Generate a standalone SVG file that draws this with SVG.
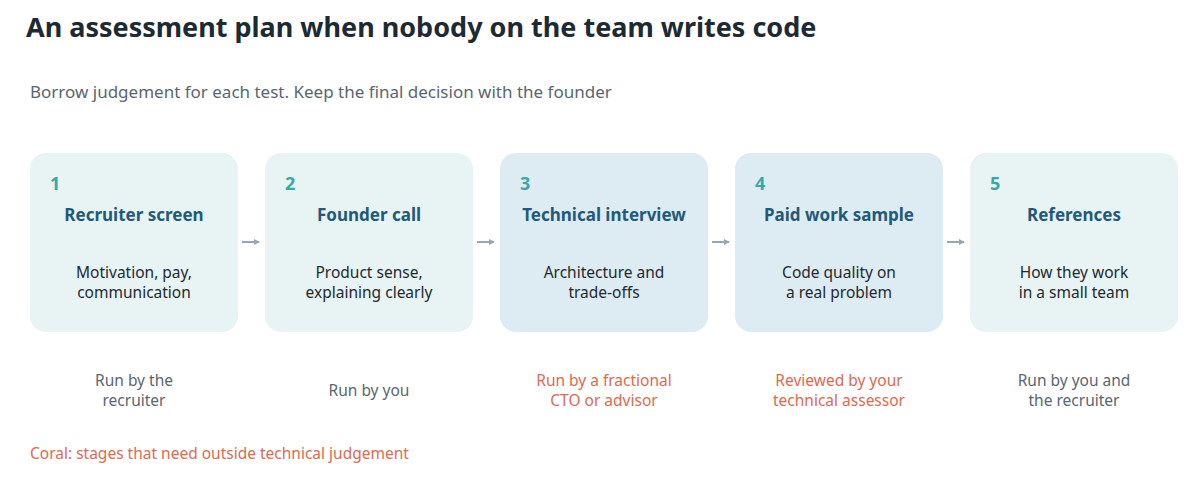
<svg xmlns="http://www.w3.org/2000/svg" width="1200" height="490" viewBox="0 0 1200 490">
<style>
text{font-family:"Noto Sans","Open Sans",sans-serif}
.t{font-size:27px;font-weight:bold;fill:#1E2A32}
.s{font-size:17px;fill:#5A6670}
.n{font-size:18px;font-weight:bold;fill:#3AA8A8}
.h{font-size:17px;font-weight:bold;fill:#1F5A7A;text-anchor:middle}
.b{font-size:15.5px;fill:#1F2A30;text-anchor:middle}
.l{font-size:15.5px;fill:#5A6670;text-anchor:middle}
.c{fill:#E0694F}
.a{fill:#E8F3F3}.d{fill:#DDEBF2}
.ar{stroke:#9AA6AE;stroke-width:2;fill:none}
</style>
<defs><marker id="m" markerWidth="6" markerHeight="6" refX="5" refY="3" orient="auto" markerUnits="userSpaceOnUse"><path d="M0,0L6,3L0,6z" fill="#9AA6AE"/></marker></defs>
<rect width="1200" height="490" fill="#fff"/>
<text class="t" x="26" y="37">An assessment plan when nobody on the team writes code</text>
<text class="s" x="30" y="98">Borrow judgement for each test. Keep the final decision with the founder</text>
<g id="n1"><rect class="a" x="30" y="153" width="208" height="179" rx="16"/><text class="n" x="50" y="190">1</text><text class="h" x="134" y="221">Recruiter screen</text><text class="b" x="134" y="278">Motivation, pay,</text><text class="b" x="134" y="298">communication</text><text class="l" x="134" y="386">Run by the</text><text class="l" x="134" y="406">recruiter</text></g>
<g id="n2"><rect class="a" x="265" y="153" width="208" height="179" rx="16"/><text class="n" x="285" y="190">2</text><text class="h" x="369" y="221">Founder call</text><text class="b" x="369" y="278">Product sense,</text><text class="b" x="369" y="298">explaining clearly</text><text class="l" x="369" y="396">Run by you</text></g>
<g id="n3"><rect class="d" x="500" y="153" width="208" height="179" rx="16"/><text class="n" x="520" y="190">3</text><text class="h" x="604" y="221">Technical interview</text><text class="b" x="604" y="278">Architecture and</text><text class="b" x="604" y="298">trade-offs</text><text class="l c" x="604" y="386">Run by a fractional</text><text class="l c" x="604" y="406">CTO or advisor</text></g>
<g id="n4"><rect class="d" x="735" y="153" width="208" height="179" rx="16"/><text class="n" x="755" y="190">4</text><text class="h" x="839" y="221">Paid work sample</text><text class="b" x="839" y="278">Code quality on</text><text class="b" x="839" y="298">a real problem</text><text class="l c" x="839" y="386">Reviewed by your</text><text class="l c" x="839" y="406">technical assessor</text></g>
<g id="n5"><rect class="a" x="970" y="153" width="208" height="179" rx="16"/><text class="n" x="990" y="190">5</text><text class="h" x="1074" y="221">References</text><text class="b" x="1074" y="278">How they work</text><text class="b" x="1074" y="298">in a small team</text><text class="l" x="1074" y="386">Run by you and</text><text class="l" x="1074" y="406">the recruiter</text></g>
<g id="connectors">
<path class="ar" d="M242,242H259" marker-end="url(#m)"/>
<path class="ar" d="M477,242H494" marker-end="url(#m)"/>
<path class="ar" d="M712,242H729" marker-end="url(#m)"/>
<path class="ar" d="M947,242H964" marker-end="url(#m)"/>
</g>
<text class="s c" x="30" y="459" style="font-size:15.5px">Coral: stages that need outside technical judgement</text>
</svg>
